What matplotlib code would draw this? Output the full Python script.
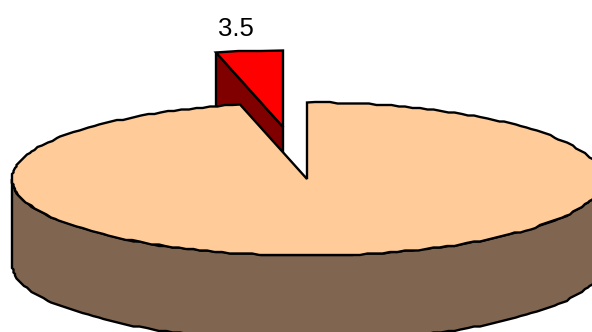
import numpy as np
import matplotlib
matplotlib.use("Agg")
import matplotlib.pyplot as plt
from matplotlib.patches import Polygon

slice_labels = ["3.5", ""]
slice_values = [3.5, 92.5]

W, H = 592, 332
CX, CY, RX, RY = 307.0, 179.0, 295.0, 76.5
DEPTH = 85.0
EXPLODE = (-24.0, -52.0)
EC = "black"
LW = 1.7
GRID = 1.5

fig = plt.figure(figsize=(W / 100, H / 100), dpi=100)
ax = fig.add_axes([0, 0, 1, 1])
ax.set_xlim(0, W)
ax.set_ylim(H, 0)
ax.axis("off")


def rim(a0, a1, cx=CX, cy=CY, step=1.5):
    """Points on the top ellipse, angle clockwise from 12 o'clock, on a coarse raster."""
    n = max(2, int(abs(a1 - a0) / step) + 1)
    t = np.radians(np.linspace(a0, a1, n))
    x = cx + RX * np.sin(t)
    y = cy - RY * np.cos(t)
    x = np.round(x / GRID) * GRID
    y = np.round(y / GRID) * GRID
    x[0], y[0] = cx + RX * np.sin(t[0]), cy - RY * np.cos(t[0])
    x[-1], y[-1] = cx + RX * np.sin(t[-1]), cy - RY * np.cos(t[-1])
    return np.column_stack([x, y])


def poly(pts, fc, z):
    ax.add_patch(Polygon(pts, closed=True, fc=fc, ec=EC, lw=LW, joinstyle="miter", zorder=z))


total = sum(slice_values)
sweep = 360 * slice_values[0] / total

# exploded slice: starts at 12 o'clock and runs counter-clockwise
sx, sy = CX + EXPLODE[0], CY + EXPLODE[1]
s_rim = rim(-sweep, 0, sx, sy, step=4)
apex = np.array([[sx, sy]])
left = s_rim[:1]
poly(np.vstack([left, apex, apex + [0, DEPTH], left + [0, DEPTH]]), "#800000", 1)
poly(np.vstack([apex, s_rim]), "#FF0000", 2)

# main body
front = rim(90, 270)
poly(np.vstack([front, (front + [0, DEPTH])[::-1]]), "#806650", 3)
m_rim = rim(0, 360 - sweep)
poly(np.vstack([[[CX, CY]], m_rim]), "#FFCC99", 4)

ax.text(sx - 47, 29, slice_labels[0], family="Liberation Sans", fontsize=18.5,
        ha="center", va="center", color="black", zorder=5)

fig.savefig("out.png", dpi=100)
